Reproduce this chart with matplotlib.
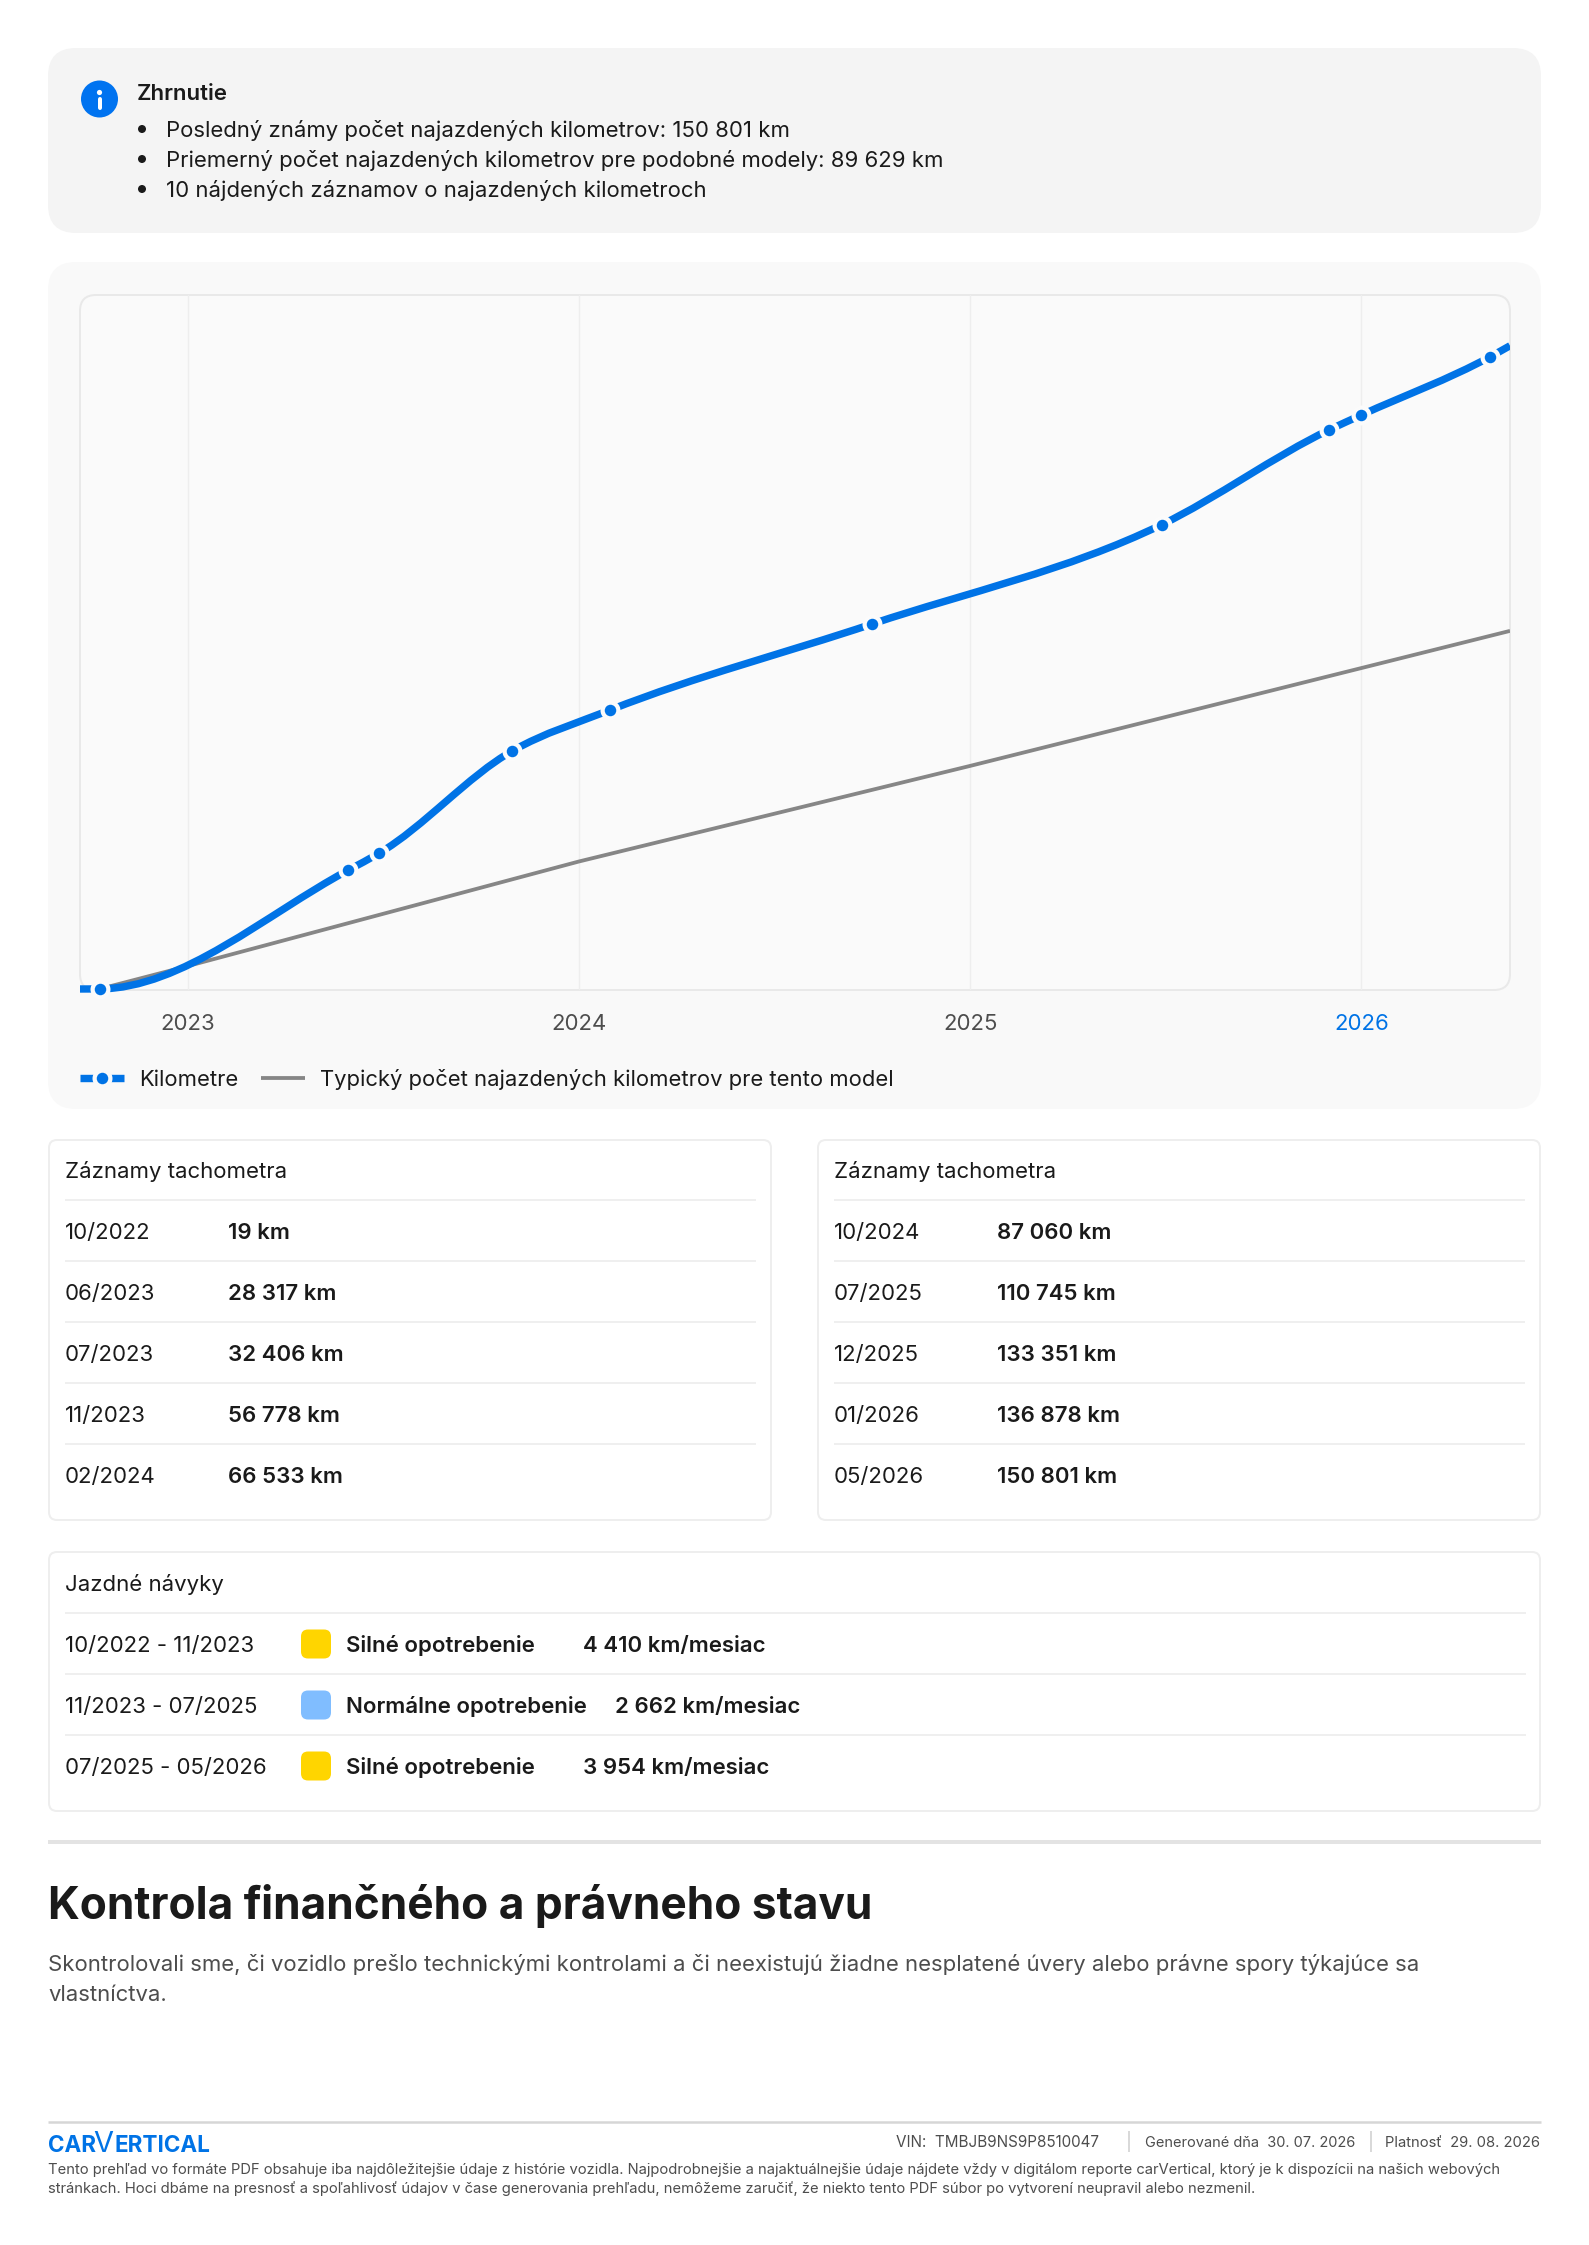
import matplotlib
matplotlib.use("Agg")
import matplotlib.pyplot as plt
import numpy as np
from matplotlib.patches import FancyBboxPatch, Circle, PathPatch, Rectangle
from matplotlib.path import Path
from matplotlib.lines import Line2D

plt.rcParams['font.family'] = ['Inter', 'DejaVu Sans']

record_dates = ["10/2022", "06/2023", "07/2023", "11/2023", "02/2024",
                "10/2024", "07/2025", "12/2025", "01/2026", "05/2026"]
record_km = [19, 28317, 32406, 56778, 66533, 87060, 110745, 133351, 136878, 150801]
record_x = [2022.775, 2023.41, 2023.49, 2023.83, 2024.08,
            2024.75, 2025.49, 2025.918, 2026.0, 2026.33]
x_start = 2022.725
x_end = 2026.38
km_at_start = 0
km_at_end = 153400
km_bottom = -240
km_top = 165500

typical_x = [2022.775, 2023.0, 2024.0, 2025.0, 2026.38]
typical_km = [0, 5460, 30400, 53200, 85400]

year_ticks = [2023, 2024, 2025, 2026]

summary_title = "Zhrnutie"
summary_lines = ["Posledný známy počet najazdených kilometrov: 150 801 km",
                 "Priemerný počet najazdených kilometrov pre podobné modely: 89 629 km",
                 "10 nájdených záznamov o najazdených kilometroch"]

habit_periods = ["10/2022 - 11/2023", "11/2023 - 07/2025", "07/2025 - 05/2026"]
habit_labels = ["Silné opotrebenie", "Normálne opotrebenie", "Silné opotrebenie"]
habit_rates = ["4 410 km/mesiac", "2 662 km/mesiac", "3 954 km/mesiac"]
habit_colors = ["#ffd500", "#80bdff", "#ffd500"]

BLUE = "#0073e6"
DARK = "#1a1a1a"
W, H = 1589, 2245
DPI = 100


def pt(px):
    return px * 72 / DPI


def km_text(v):
    return f"{v:,}".replace(",", " ") + " km"


def monotone_path(x, y):
    # smooth line through the records, tangents like a monotone cubic
    x = np.array(x, float)
    y = np.array(y, float)
    h = np.diff(x)
    s = np.diff(y) / h
    m = np.zeros(len(x))
    for i in range(1, len(x) - 1):
        if s[i - 1] * s[i] > 0:
            p = (s[i - 1] * h[i] + s[i] * h[i - 1]) / (h[i - 1] + h[i])
            m[i] = (np.sign(s[i - 1]) + np.sign(s[i])) * min(abs(s[i - 1]), abs(s[i]), 0.5 * abs(p))
    m[0] = s[0]
    m[-1] = (3 * s[-1] - m[-2]) / 2
    verts = [(x[0], y[0])]
    codes = [Path.MOVETO]
    for i in range(len(x) - 1):
        verts += [(x[i] + h[i] / 3, y[i] + m[i] * h[i] / 3),
                  (x[i + 1] - h[i] / 3, y[i + 1] - m[i + 1] * h[i] / 3),
                  (x[i + 1], y[i + 1])]
        codes += [Path.CURVE4] * 3
    return Path(verts, codes)


fig = plt.figure(figsize=(W / DPI, H / DPI), dpi=DPI, facecolor="white")
page = fig.add_axes([0, 0, 1, 1])
page.set_xlim(0, W)
page.set_ylim(H, 0)
page.axis("off")


def box(x0, y0, x1, y1, r, fc, ec="none", lw=0):
    page.add_patch(FancyBboxPatch((x0, y0), x1 - x0, y1 - y0,
                                  boxstyle=f"round,pad=0,rounding_size={r}",
                                  fc=fc, ec=ec, lw=lw))


def txt(x, y, s, px, color=DARK, weight="normal", ha="left"):
    page.text(x, y + 0.36 * px, s, fontsize=pt(px), color=color, fontweight=weight,
              ha=ha, va="baseline")


def hline(x0, x1, y, color="#efefef", lw=2):
    page.plot([x0, x1], [y, y], color=color, lw=pt(lw), solid_capstyle="butt")


# summary
box(48, 48, 1541, 233, 28, "#f4f4f4")
page.add_patch(Circle((99.5, 99), 18.5, fc="#0073f0", ec="none"))
page.add_patch(Circle((99.5, 92.5), 2.6, fc="white", ec="none"))
page.plot([99.5, 99.5], [98.5, 108], color="white", lw=pt(4), solid_capstyle="round")
txt(137, 92, summary_title, 22.2, weight="semibold")
for i, line in enumerate(summary_lines):
    y = 129 + 30 * i
    page.add_patch(Circle((142, y), 4, fc=DARK, ec="none"))
    txt(166, y, line, 22.1)

# chart panel
box(48, 262, 1541, 1109, 28, "#f9f9f9")
box(80, 295, 1510, 990, 16, "#fafafa", ec="#e9e9e9", lw=pt(2))

plot_x0, plot_x1, plot_y0, plot_y1 = 80, 1510, 295, 990
ax = fig.add_axes([plot_x0 / W, 1 - plot_y1 / H, (plot_x1 - plot_x0) / W, (plot_y1 - plot_y0) / H])
ax.patch.set_alpha(0)
ax.set_xlim(x_start, x_end)
ax.set_ylim(km_bottom, km_top)
for side in ax.spines:
    ax.spines[side].set_visible(False)
ax.set_yticks([])
ax.set_xticks(year_ticks)
ax.set_xticklabels([str(y) for y in year_ticks], fontsize=pt(22.2), color="#4d4d4d")
ax.get_xticklabels()[-1].set_color(BLUE)
ax.tick_params(axis="x", length=0, pad=pt(24))
ax.grid(axis="x", color="#eeeeee", lw=pt(1.4))
ax.set_axisbelow(True)
ax.plot(typical_x, typical_km, color="#868686", lw=pt(3.8), solid_capstyle="butt", zorder=2)
curve_x = [x_start] + record_x + [x_end]
curve_km = [km_at_start] + record_km + [km_at_end]
km_line = PathPatch(monotone_path(curve_x, curve_km), fill=False, ec=BLUE, lw=pt(7.4),
                    capstyle="butt", zorder=3)
ax.add_patch(km_line)
# line keeps its full width on the bottom edge, only the right side is cut
km_line.set_clip_path(Rectangle((x_start, -km_top * 0.05), x_end - x_start, km_top * 1.05,
                                transform=ax.transData))
ax.plot(record_x, record_km, ls="none", marker="o", ms=pt(20), mfc="#fbfbfb", mec="none", zorder=4, clip_on=False)
ax.plot(record_x, record_km, ls="none", marker="o", ms=pt(11.5), mfc=BLUE, mec="none", zorder=5, clip_on=False)

# legend
page.add_line(Line2D([80, 124], [1078, 1078], color=BLUE, lw=pt(7.4), solid_capstyle="butt"))
page.plot([101.5], [1078], marker="o", ms=pt(20), mfc="#f9f9f9", mec="none")
page.plot([101.5], [1078], marker="o", ms=pt(11.5), mfc=BLUE, mec="none")
txt(139, 1078, "Kilometre", 22)
page.add_line(Line2D([261, 305], [1078, 1078], color="#868686", lw=pt(3.8), solid_capstyle="butt"))
txt(320, 1078, "Typický počet najazdených kilometrov pre tento model", 22)

# odometer tables
for x0, x1, first in [(48, 772, 0), (817, 1541, 5)]:
    box(x0 + 1, 1140, x1 - 1, 1520, 8, "white", ec="#eeeeee", lw=pt(2))
    txt(x0 + 17, 1170, "Záznamy tachometra", 22.2)
    for i in range(5):
        y_line = 1200 + 61 * i
        hline(x0 + 17, x1 - 16, y_line)
        txt(x0 + 17, y_line + 31, record_dates[first + i], 22.2)
        txt(x0 + 180, y_line + 31, km_text(record_km[first + i]), 22.2, weight="semibold")

# driving habits
box(49, 1552, 1540, 1811, 8, "white", ec="#eeeeee", lw=pt(2))
txt(65, 1583, "Jazdné návyky", 22.2)
habit_value_x = [583, 615, 583]
for i in range(3):
    y_line = 1613 + 61 * i
    hline(65, 1526, y_line)
    yc = y_line + 31
    txt(65, yc, habit_periods[i], 22.2)
    box(301, yc - 14.5, 331, yc + 14.5, 7, habit_colors[i])
    txt(346, yc, habit_labels[i], 22.2, weight="semibold")
    txt(habit_value_x[i], yc, habit_rates[i], 22.2, weight="semibold")

hline(48, 1541, 1842, color="#e3e3e3", lw=4)

# section heading
txt(48, 1903, "Kontrola finančného a právneho stavu", 44.2, weight="bold")
txt(48, 1963, "Skontrolovali sme, či vozidlo prešlo technickými kontrolami a či neexistujú žiadne nesplatené úvery alebo právne spory týkajúce sa", 22.1, color="#4d4d4d")
txt(48, 1993, "vlastníctva.", 22.1, color="#4d4d4d")

# footer
hline(48, 1541, 2122, color="#d6d6d6", lw=2.5)
page.text(48, 2151.5, "CAR", fontsize=pt(22.5), color="#0073e6", fontweight="bold", va="baseline")
page.text(93, 2151.5, "V", fontsize=pt(29), color="#0073e6", fontweight="normal", va="baseline")
page.text(115, 2151.5, "ERTICAL", fontsize=pt(22.5), color="#0073e6", fontweight="bold", va="baseline")
txt(896, 2142, "VIN:  TMBJB9NS9P8510047", 15.2, color="#4d4d4d")
page.plot([1129, 1129], [2132, 2151], color="#d9d9d9", lw=pt(2))
txt(1145, 2142, "Generované dňa  30. 07. 2026", 14.6, color="#4d4d4d")
page.plot([1371, 1371], [2132, 2151], color="#d9d9d9", lw=pt(2))
txt(1540, 2142, "Platnosť  29. 08. 2026", 14.8, color="#4d4d4d", ha="right")
txt(48, 2169, "Tento prehľad vo formáte PDF obsahuje iba najdôležitejšie údaje z histórie vozidla. Najpodrobnejšie a najaktuálnejšie údaje nájdete vždy v digitálom reporte carVertical, ktorý je k dispozícii na našich webových", 14.76, color="#4d4d4d")
txt(48, 2188, "stránkach. Hoci dbáme na presnosť a spoľahlivosť údajov v čase generovania prehľadu, nemôžeme zaručiť, že niekto tento PDF súbor po vytvorení neupravil alebo nezmenil.", 14.76, color="#4d4d4d")

fig.savefig("out.png", dpi=DPI)
